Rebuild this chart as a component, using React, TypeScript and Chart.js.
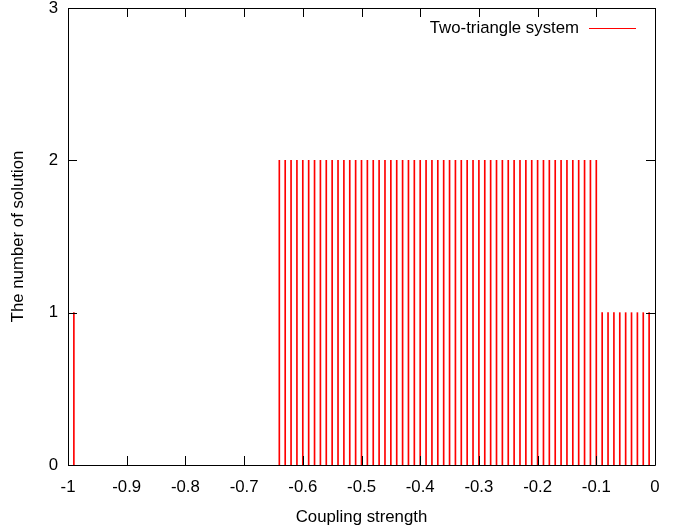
import React, { useEffect, useRef } from "react";
import { Chart, registerables } from "chart.js";

Chart.register(...registerables);

const seriesLabel = "Two-triangle system";
const xTitle = "Coupling strength";
const yTitle = "The number of solution";

const couplingStrength = [
  -0.99,
  -0.64, -0.63, -0.62, -0.61, -0.6, -0.59, -0.58, -0.57, -0.56, -0.55,
  -0.54, -0.53, -0.52, -0.51, -0.5, -0.49, -0.48, -0.47, -0.46, -0.45,
  -0.44, -0.43, -0.42, -0.41, -0.4, -0.39, -0.38, -0.37, -0.36, -0.35,
  -0.34, -0.33, -0.32, -0.31, -0.3, -0.29, -0.28, -0.27, -0.26, -0.25,
  -0.24, -0.23, -0.22, -0.21, -0.2, -0.19, -0.18, -0.17, -0.16, -0.15,
  -0.14, -0.13, -0.12, -0.11, -0.1,
  -0.09, -0.08, -0.07, -0.06, -0.05, -0.04, -0.03, -0.02, -0.01,
];

const solutionCount = [
  1,
  2, 2, 2, 2, 2, 2, 2, 2, 2, 2,
  2, 2, 2, 2, 2, 2, 2, 2, 2, 2,
  2, 2, 2, 2, 2, 2, 2, 2, 2, 2,
  2, 2, 2, 2, 2, 2, 2, 2, 2, 2,
  2, 2, 2, 2, 2, 2, 2, 2, 2, 2,
  2, 2, 2, 2, 2,
  1, 1, 1, 1, 1, 1, 1, 1, 1,
];

const FONT = "'Liberation Sans', Arial, sans-serif";
const FS = 16.8;

const framePlugin = {
  id: "gnuplotFrame",
  afterDraw(chart: any) {
    const { ctx, chartArea } = chart;
    const xs = chart.scales.x;
    const ys = chart.scales.y;
    const { left, right, top, bottom } = chartArea;
    ctx.save();
    ctx.strokeStyle = "#000";
    ctx.lineWidth = 1;
    ctx.beginPath();
    ctx.rect(Math.round(left) + 0.5, Math.round(top) + 0.5, Math.round(right - left), Math.round(bottom - top));
    ctx.stroke();
    const tl = 9;
    ctx.beginPath();
    xs.ticks.forEach((t: any) => {
      const px = Math.round(xs.getPixelForValue(t.value)) + 0.5;
      ctx.moveTo(px, bottom);
      ctx.lineTo(px, bottom - tl);
      ctx.moveTo(px, top);
      ctx.lineTo(px, top + tl);
    });
    ys.ticks.forEach((t: any) => {
      const py = Math.round(ys.getPixelForValue(t.value)) + 0.5;
      ctx.moveTo(left, py);
      ctx.lineTo(left + tl, py);
      ctx.moveTo(right, py);
      ctx.lineTo(right - tl, py);
    });
    ctx.stroke();

    // legend (key) inside plot, gnuplot style
    const ds = chart.data.datasets[0];
    const ly = top + 20;
    ctx.font = `${FS}px ${FONT}`;
    ctx.fillStyle = "#000";
    ctx.textAlign = "right";
    ctx.textBaseline = "middle";
    ctx.fillText(ds.label, right - 76, ly);
    ctx.strokeStyle = ds.backgroundColor;
    ctx.beginPath();
    ctx.moveTo(right - 66, ly + 0.5);
    ctx.lineTo(right - 19, ly + 0.5);
    ctx.stroke();
    ctx.restore();
  },
};

export default function App() {
  const ref = useRef<HTMLCanvasElement | null>(null);
  useEffect(() => {
    if (!ref.current) return;
    const chart = new Chart(ref.current, {
      type: "bar",
      data: {
        datasets: [
          {
            label: seriesLabel,
            data: couplingStrength.map((x, i) => ({ x, y: solutionCount[i] })),
            backgroundColor: "#ff0000",
            borderWidth: 0,
            barThickness: 1,
          },
        ],
      },
      options: {
        animation: false,
        responsive: false,
        layout: { padding: { top: 8, right: 25, left: 0, bottom: 0 } },
        plugins: { legend: { display: false }, tooltip: { enabled: false } },
        scales: {
          x: {
            type: "linear",
            min: -1,
            max: 0,
            offset: false,
            grid: { display: false, offset: false, drawTicks: false, tickLength: 0 },
            border: { display: false },
            ticks: {
              stepSize: 0.1,
              color: "#000",
              font: { family: FONT, size: FS },
              padding: 12,
              maxRotation: 0,
              autoSkip: false,
              callback: (v: any) => String(Number(Number(v).toFixed(1))),
            },
            title: {
              display: true,
              text: xTitle,
              color: "#000",
              font: { family: FONT, size: FS },
              padding: { top: 4, bottom: 3 },
            },
            afterFit: (s: any) => {
              s.height = 65;
              s.paddingLeft = 0;
              s.paddingRight = 0;
            },
          },
          y: {
            min: 0,
            max: 3,
            grid: { display: false, drawTicks: false, tickLength: 0 },
            border: { display: false },
            ticks: {
              stepSize: 1,
              color: "#000",
              font: { family: FONT, size: FS },
              padding: 10,
            },
            title: {
              display: true,
              text: yTitle,
              color: "#000",
              font: { family: FONT, size: FS },
              padding: { top: 8, bottom: 8 },
            },
            afterFit: (s: any) => {
              s.width = 68;
              s.paddingTop = 0;
              s.paddingBottom = 0;
            },
          },
        },
      },
      plugins: [framePlugin],
    });
    return () => chart.destroy();
  }, []);
  return (
    <div style={{ position: "fixed", left: 0, top: 0, width: 680, height: 530, background: "#fff" }}>
      <canvas ref={ref} width={680} height={530} style={{ display: "block" }} />
    </div>
  );
}
